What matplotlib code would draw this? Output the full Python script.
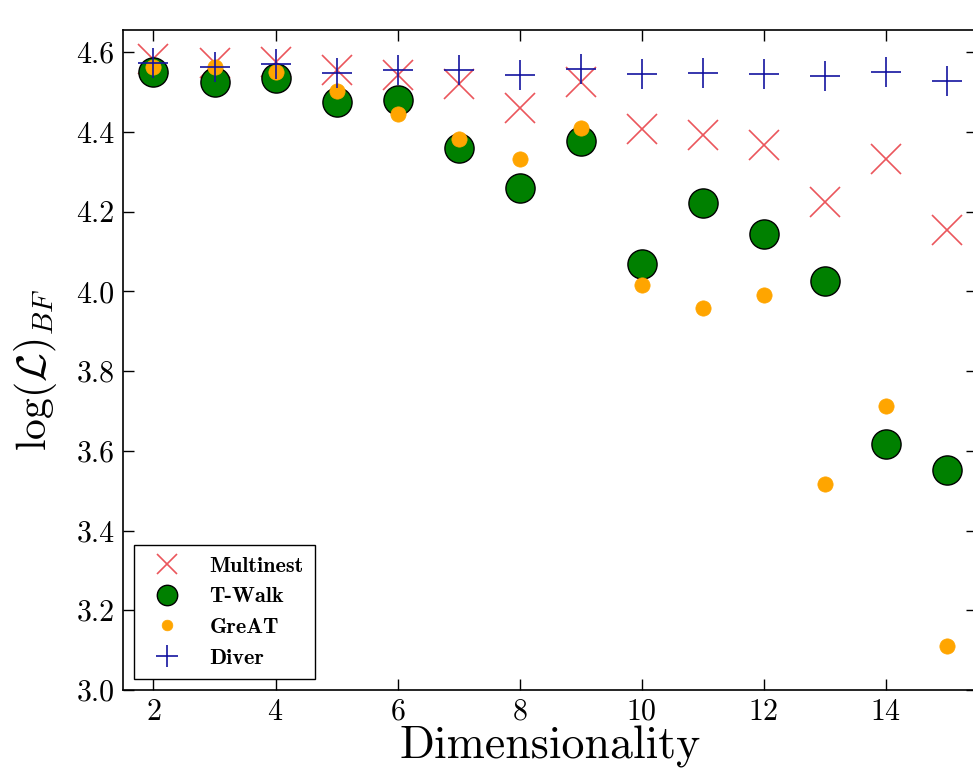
import matplotlib
matplotlib.use("Agg")
import matplotlib.pyplot as plt

# values
dims = [2, 3, 4, 5, 6, 7, 8, 9, 10, 11, 12, 13, 14, 15]
multinest = [4.583, 4.572, 4.576, 4.555, 4.542, 4.521, 4.459, 4.525,
             4.407, 4.393, 4.367, 4.224, 4.331, 4.153]
twalk = [4.551, 4.525, 4.536, 4.475, 4.480, 4.360, 4.259, 4.377,
         4.068, 4.222, 4.143, 4.025, 3.616, 3.553]
great = [4.563, 4.563, 4.551, 4.503, 4.444, 4.383, 4.331, 4.411,
         4.015, 3.959, 3.990, 3.516, 3.712, 3.110]
diver = [4.572, 4.562, 4.570, 4.548, 4.555, 4.555, 4.544, 4.557,
         4.545, 4.547, 4.545, 4.540, 4.551, 4.527]

plt.rcParams["font.family"] = "cmr10"
plt.rcParams["mathtext.fontset"] = "cm"
plt.rcParams["axes.formatter.use_mathtext"] = True

fig = plt.figure(figsize=(9.73, 7.77), dpi=100)
# the reference is cropped on the right, so the axes run past the figure edge
ax = fig.add_axes([0.1264, 0.112, 0.878, 0.849])

ax.plot(dims, multinest, "x", color="#e8383f", alpha=0.85, ms=21, mew=1.2,
        linestyle="none", label="Multinest")
ax.plot(dims, twalk, "o", color="green", mec="black", ms=21, mew=1.0,
        linestyle="none", label="T-Walk")
ax.plot(dims, great, "o", color="orange", mec="orange", ms=11, mew=0.5,
        linestyle="none", label="GreAT")
ax.plot(dims, diver, "+", color="#1414a0", ms=22, mew=1.2,
        linestyle="none", label="Diver")

ax.set_xlim(1.5, 15.5)
ax.set_ylim(3.0, 4.655)
ax.set_xticks([2, 4, 6, 8, 10, 12, 14])
ax.set_yticks([3.0, 3.2, 3.4, 3.6, 3.8, 4.0, 4.2, 4.4, 4.6])
ax.set_yticklabels(["3.0", "3.2", "3.4", "3.6", "3.8", "4.0", "4.2", "4.4", "4.6"])
ax.tick_params(direction="in", length=8, width=1, top=True, right=True,
               labelsize=21.5, pad=6)
for sp in ax.spines.values():
    sp.set_linewidth(1.2)

ax.set_xlabel("Dimensionality", fontsize=33, labelpad=0)
ax.set_ylabel(r"$\log(\mathcal{L})_{BF}$", fontsize=30)
ax.yaxis.set_label_coords(-0.075, 0.485)

leg = ax.legend(loc="lower left", numpoints=1, markerscale=0.7,
                prop={"family": "cmb10", "size": 16},
                fancybox=False, edgecolor="black", framealpha=1,
                borderpad=0.5, handletextpad=0.9, labelspacing=0.5,
                borderaxespad=0.5)
leg.get_frame().set_linewidth(1.0)

fig.savefig("out.png", dpi=100)
